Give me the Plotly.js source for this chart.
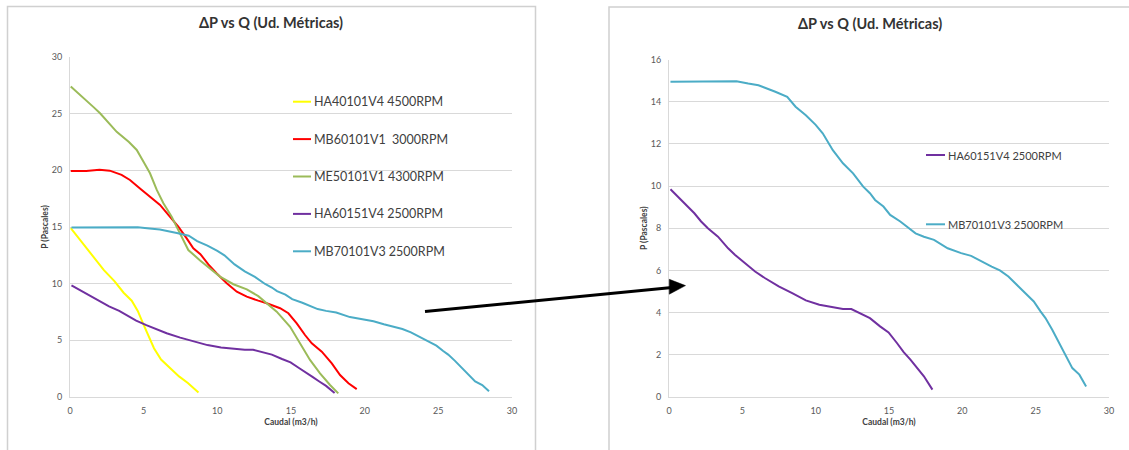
<!DOCTYPE html>
<html>
<head>
<meta charset="utf-8">
<script src="https://cdn.plot.ly/plotly-3.0.1.min.js"></script>
<style>
html,body{margin:0;padding:0;background:#ffffff;}
#chart{width:1129px;height:450px;}
</style>
</head>
<body>
<div id="chart"></div>
<script>
// ---- text ----
const chartTitle = 'ΔP vs Q (Ud. Métricas)';
const xTitle = 'Caudal (m3/h)';
const yTitle = 'P (Pascales)';

// ---- ticks ----
const xTicks = [0, 5, 10, 15, 20, 25, 30];
const yTicksLeft = [0, 5, 10, 15, 20, 25, 30];
const yTicksRight = [0, 2, 4, 6, 8, 10, 12, 14, 16];

// ---- series names ----
const nameHA40101 = 'HA40101V4 4500RPM';
const nameMB60101 = 'MB60101V1\u00a0 3000RPM';
const nameME50101 = 'ME50101V1 4300RPM';
const nameHA60151 = 'HA60151V4 2500RPM';
const nameMB70101 = 'MB70101V3 2500RPM';

// ---- series values (Caudal m3/h, P Pascales) ----
const ha40101X = [0.05, 0.85, 1.58, 2.3, 3.03, 3.64, 4.19, 4.6, 4.97, 5.34, 5.7, 6.18, 6.79, 7.4, 8.0, 8.72];
const ha40101Y = [14.9, 13.6, 12.4, 11.2, 10.2, 9.2, 8.5, 7.6, 6.45, 5.3, 4.3, 3.3, 2.56, 1.82, 1.24, 0.4];

const mb60101X = [0.05, 1.1, 2.0, 2.7, 3.5, 4.07, 4.75, 5.43, 6.11, 6.79, 7.35, 7.92, 8.37, 8.85, 9.39, 9.96, 10.64, 11.32, 12.0, 12.78, 13.35, 14.26, 14.82, 15.39, 15.95, 16.41, 17.09, 17.77, 18.33, 18.9, 19.46];
const mb60101Y = [19.95, 19.95, 20.05, 19.97, 19.6, 19.15, 18.4, 17.68, 16.95, 15.9, 15.03, 14.0, 13.12, 12.6, 11.7, 10.9, 10.03, 9.29, 8.85, 8.5, 8.27, 7.83, 7.39, 6.5, 5.47, 4.74, 4.0, 2.97, 1.94, 1.21, 0.7];

const me50101X = [0.05, 0.85, 1.58, 2.04, 3.17, 4.0, 4.53, 4.98, 5.43, 5.89, 6.34, 6.9, 7.47, 8.03, 8.83, 9.5, 10.18, 11.09, 12.0, 12.78, 13.35, 14.03, 14.94, 15.61, 16.29, 16.97, 17.65, 18.21];
const me50101Y = [27.4, 26.5, 25.6, 25.04, 23.4, 22.5, 21.8, 20.77, 19.74, 18.27, 17.1, 15.9, 14.45, 12.97, 12.05, 11.3, 10.62, 9.95, 9.5, 8.9, 8.3, 7.53, 6.2, 4.74, 3.27, 2.09, 1.06, 0.32];

const ha60151X = [0.1, 0.58, 1.27, 1.73, 2.19, 2.65, 3.34, 4.03, 4.49, 5.18, 5.87, 6.56, 7.48, 8.4, 9.33, 10.25, 11.17, 11.86, 12.43, 13.0, 13.7, 14.39, 14.97, 15.54, 16.0, 16.46, 16.92, 17.38, 17.96];
const ha60151Y = [9.85, 9.5, 9.03, 8.71, 8.32, 8.0, 7.6, 7.05, 6.74, 6.34, 5.95, 5.63, 5.24, 4.92, 4.58, 4.37, 4.26, 4.17, 4.17, 3.98, 3.74, 3.35, 3.06, 2.56, 2.13, 1.77, 1.37, 0.98, 0.35];

const mb70101X = [0.1, 2.0, 4.6, 5.4, 6.1, 7.25, 8.06, 8.63, 9.33, 10.0, 10.48, 11.17, 11.86, 12.55, 13.24, 13.7, 14.05, 14.62, 15.08, 15.77, 16.23, 16.81, 17.38, 18.07, 19.0, 19.92, 20.6, 21.3, 22.0, 22.56, 23.14, 23.83, 24.4, 24.87, 25.33, 25.67, 26.13, 26.6, 27.05, 27.5, 27.98, 28.44];
const mb70101Y = [14.95, 14.96, 14.97, 14.86, 14.78, 14.47, 14.23, 13.76, 13.36, 12.9, 12.5, 11.7, 11.08, 10.6, 9.97, 9.66, 9.34, 9.03, 8.63, 8.32, 8.08, 7.76, 7.6, 7.45, 7.05, 6.82, 6.69, 6.42, 6.18, 6.0, 5.71, 5.24, 4.84, 4.53, 4.06, 3.74, 3.19, 2.56, 1.93, 1.37, 1.06, 0.5];

// ---- styles ----
const colHA40101 = '#ffff00';
const colMB60101 = '#ff0000';
const colME50101 = '#9bbb59';
const colHA60151 = '#7030a0';
const colMB70101 = '#4bacc6';

const W = 1129, H = 450;
const FONT = 'Lato, "Open Sans", sans-serif';
const px = v => v / W;
const py = v => 1 - v / H;

function line(x, y, name, color, xa, ya) {
  return {x: x, y: y, name: name, type: 'scatter', mode: 'lines',
          line: {color: color, width: 2}, xaxis: xa, yaxis: ya,
          showlegend: false, hoverinfo: 'skip'};
}

const traces = [
  line(ha40101X, ha40101Y, nameHA40101, colHA40101, 'x', 'y'),
  line(mb60101X, mb60101Y, nameMB60101, colMB60101, 'x', 'y'),
  line(me50101X, me50101Y, nameME50101, colME50101, 'x', 'y'),
  line(ha60151X, ha60151Y, nameHA60151, colHA60151, 'x', 'y'),
  line(mb70101X, mb70101Y, nameMB70101, colMB70101, 'x', 'y'),
  line(ha60151X, ha60151Y, nameHA60151, colHA60151, 'x2', 'y2'),
  line(mb70101X, mb70101Y, nameMB70101, colMB70101, 'x2', 'y2')
];

const tickFont = {family: FONT, size: 9, color: '#595959'};
const axTitleFont = {family: FONT, size: 8.5, color: '#404040', weight: 'bold'};

function xAxis(domain, anchor) {
  return {domain: domain, anchor: anchor, range: [0, 30], tickvals: xTicks,
          showgrid: false, zeroline: false, showline: true, linecolor: '#d9d9d9', linewidth: 1,
          ticks: '', tickfont: tickFont, ticklabelstandoff: 5, fixedrange: true,
          title: {text: xTitle, font: axTitleFont, standoff: 4}};
}
function yAxis(domain, anchor, maxV, vals) {
  return {domain: domain, anchor: anchor, range: [0, maxV], tickvals: vals,
          showgrid: true, gridcolor: '#d9d9d9', gridwidth: 1,
          zeroline: false, showline: true, linecolor: '#d9d9d9', linewidth: 1,
          ticks: '', tickfont: tickFont, ticklabelstandoff: 5, fixedrange: true,
          title: {text: yTitle, font: axTitleFont, standoff: 1}};
}

// legends (drawn as small line samples + text)
const legendLeft = [
  [nameHA40101, colHA40101], [nameMB60101, colMB60101], [nameME50101, colME50101],
  [nameHA60151, colHA60151], [nameMB70101, colMB70101]
];
const legendRight = [[nameHA60151, colHA60151], [nameMB70101, colMB70101]];

const shapes = [];
const annotations = [];

// frames
shapes.push({type: 'rect', xref: 'paper', yref: 'paper', x0: px(7.5), x1: px(535.5), y0: py(6.5), y1: py(470),
             line: {color: '#d0d0d0', width: 1.5}, fillcolor: 'rgba(0,0,0,0)', layer: 'below'});
shapes.push({type: 'rect', xref: 'paper', yref: 'paper', x0: px(609), x1: px(1145), y0: py(7), y1: py(470),
             line: {color: '#d0d0d0', width: 1.5}, fillcolor: 'rgba(0,0,0,0)', layer: 'below'});

legendLeft.forEach(function (item, i) {
  const yy = 101.7 + 37.4 * i;
  shapes.push({type: 'line', xref: 'paper', yref: 'paper', x0: px(293), x1: px(311), y0: py(yy), y1: py(yy),
               line: {color: item[1], width: 2}});
  annotations.push({xref: 'paper', yref: 'paper', x: px(312), y: py(yy), xanchor: 'left', yanchor: 'middle',
                    text: item[0], showarrow: false, font: {family: FONT, size: 12.5, color: '#404040'}});
});
legendRight.forEach(function (item, i) {
  const yy = 155 + 69.3 * i;
  shapes.push({type: 'line', xref: 'paper', yref: 'paper', x0: px(926), x1: px(945), y0: py(yy), y1: py(yy),
               line: {color: item[1], width: 2}});
  annotations.push({xref: 'paper', yref: 'paper', x: px(945.5), y: py(yy), xanchor: 'left', yanchor: 'middle',
                    text: item[0], showarrow: false, font: {family: FONT, size: 11, color: '#404040'}});
});

// second chart title
annotations.push({xref: 'paper', yref: 'paper', x: px(870), y: py(23), xanchor: 'center', yanchor: 'middle',
                  text: chartTitle, showarrow: false,
                  font: {family: FONT, size: 14.5, color: '#333333', weight: 'bold'}});

// arrow between the charts
shapes.push({type: 'line', xref: 'paper', yref: 'paper', x0: px(425), y0: py(311.5), x1: px(672), y1: py(287.4),
             line: {color: '#000000', width: 3}});
shapes.push({type: 'path', xref: 'paper', yref: 'paper',
             path: 'M' + px(685.5) + ',' + py(285.6) + ' L' + px(669.3) + ',' + py(279.3) + ' L' + px(669.3) + ',' + py(294.2) + ' Z',
             fillcolor: '#000000', line: {color: '#000000', width: 0.5}});

const layout = {
  width: W, height: H,
  margin: {l: 0, r: 0, t: 0, b: 0, pad: 0},
  paper_bgcolor: '#ffffff', plot_bgcolor: '#ffffff',
  font: {family: FONT, color: '#404040'},
  showlegend: false,
  title: {text: chartTitle, x: px(271), xanchor: 'center', xref: 'paper',
          y: py(23), yanchor: 'middle', yref: 'paper',
          font: {family: FONT, size: 14.5, color: '#333333', weight: 'bold'}},
  xaxis: xAxis([px(70), px(512)], 'y'),
  yaxis: yAxis([py(397), py(57)], 'x', 30, yTicksLeft),
  xaxis2: xAxis([px(669), px(1109)], 'y2'),
  yaxis2: yAxis([py(397), py(59.5)], 'x2', 16, yTicksRight),
  shapes: shapes,
  annotations: annotations
};

Plotly.newPlot('chart', traces, layout, {staticPlot: true, displayModeBar: false});
</script>
</body>
</html>
